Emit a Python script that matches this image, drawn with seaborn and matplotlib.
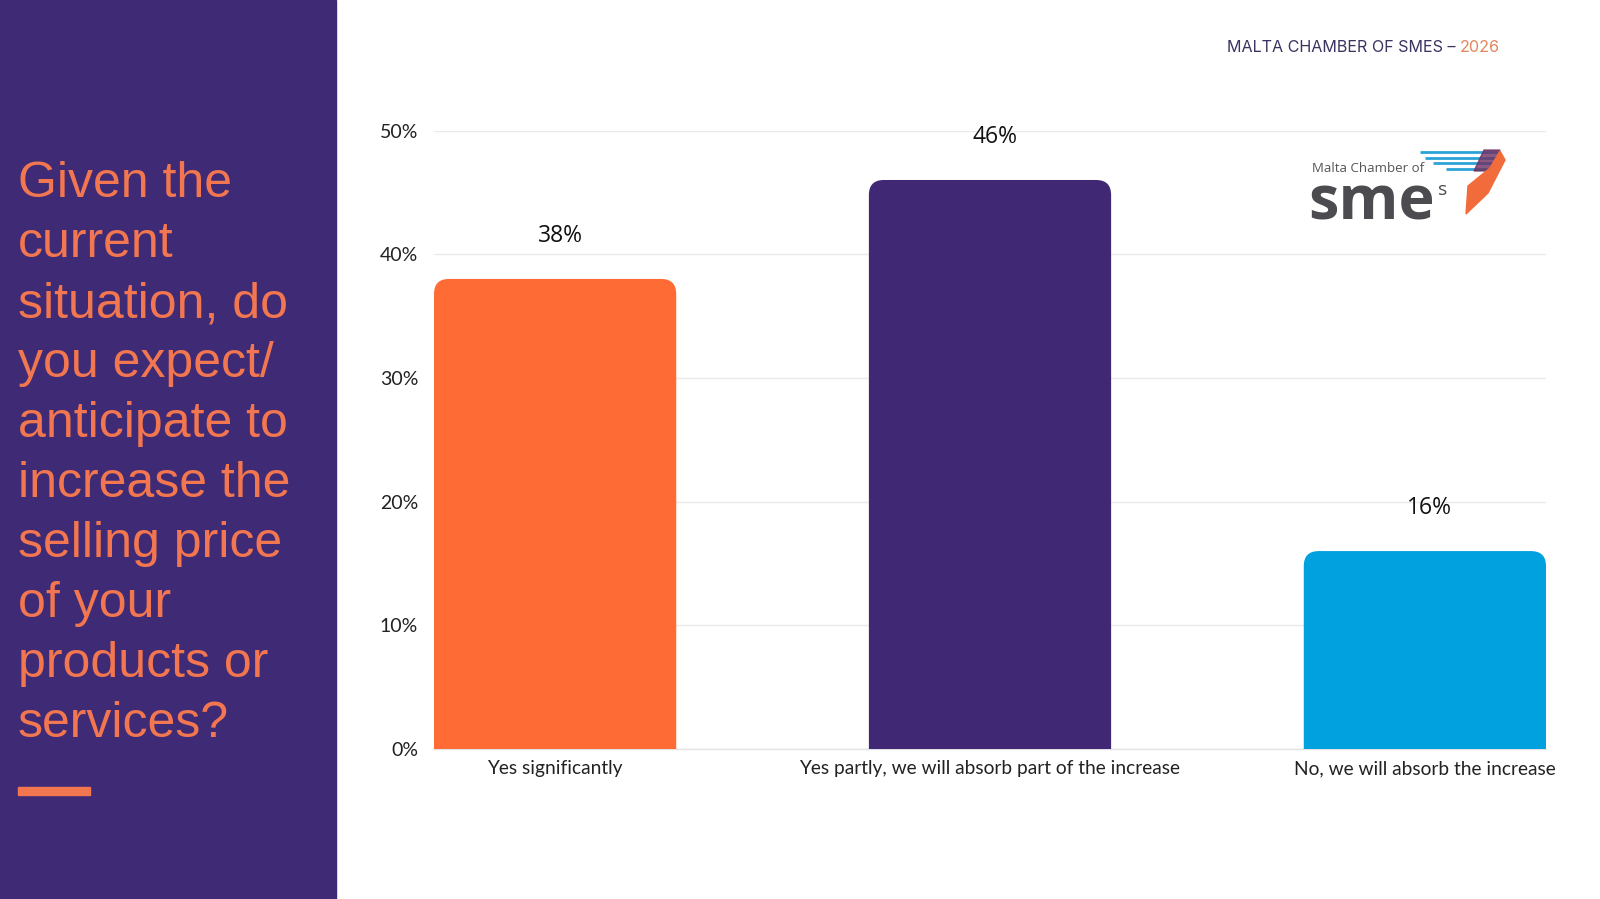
import matplotlib
matplotlib.use("Agg")
import matplotlib.pyplot as plt
import seaborn as sns
import pandas as pd
from matplotlib.patches import Rectangle, FancyBboxPatch, Polygon

# ---------------- data ----------------
categories = ["Yes significantly",
              "Yes partly, we will absorb part of the increase",
              "No, we will absorb the increase"]
values = [38, 46, 16]
value_labels = ["38%", "46%", "16%"]
bar_colors = ["#FF6B35", "#402874", "#00A1DE"]
y_ticks = [0, 10, 20, 30, 40, 50]
y_tick_labels = ["0%", "10%", "20%", "30%", "40%", "50%"]
question_lines = ["Given the", "current", "situation, do", "you expect/",
                  "anticipate to", "increase the", "selling price",
                  "of your", "products or", "services?"]
header_left = "MALTA CHAMBER OF SMES \u2013 "
header_right = "2026"

W, H = 1600, 899
sns.set_theme(style="white")
plt.rcParams["font.family"] = ["Lato", "DejaVu Sans"]

fig = plt.figure(figsize=(W / 100, H / 100), dpi=100)
fig.patch.set_facecolor("white")

# overlay in pixel coordinates for decorations
deco = fig.add_axes([0, 0, 1, 1], zorder=0)
deco.set_xlim(0, W)
deco.set_ylim(H, 0)
deco.axis("off")

# left panel
deco.add_patch(Rectangle((0, 0), 336, H, color="#3F2A75", zorder=1))
for i, line in enumerate(question_lines):
    deco.text(18, 197 + 60 * i, line, fontsize=36, color="#F2764F",
              family=["Liberation Sans", "DejaVu Sans"], va="baseline", ha="left", zorder=2)
deco.add_patch(Rectangle((18, 787), 72, 8, color="#F2764F", zorder=2))

# chart axes
ax_left, ax_right = 434, 1546
ax_top, ax_bot = 130.5, 749
ax = fig.add_axes([ax_left / W, 1 - ax_bot / H, (ax_right - ax_left) / W, (ax_bot - ax_top) / H], zorder=1)
ax.patch.set_alpha(0)

df = pd.DataFrame({"category": categories, "value": values})
bw = 0.557
sns.barplot(data=df, x="category", y="value", hue="category", palette=bar_colors,
            width=bw, saturation=1, legend=False, ax=ax, zorder=3)
ax.set_xlim(-bw / 2, 2 + bw / 2)
ax.set_ylim(0, 50)
ax.set_yticks(y_ticks)
ax.set_yticklabels(y_tick_labels)
ax.set_xlabel("")
ax.set_ylabel("")
for s in ["top", "right", "left"]:
    ax.spines[s].set_visible(False)
ax.spines["bottom"].set_color("#E3E3E3")
ax.spines["bottom"].set_linewidth(1.0)
ax.yaxis.grid(True, color="#EAEAEA", linewidth=1.0, zorder=0)
ax.set_axisbelow(True)
ax.tick_params(axis="y", length=0, pad=11.5, labelsize=14, labelcolor="#222222")
ax.tick_params(axis="x", length=0, pad=8, labelsize=13.8, labelcolor="#222222")

# replace bars with top-rounded versions
px_per_x = (ax_right - ax_left) / (2 + bw)
px_per_y = (ax_bot - ax_top) / 50.0
radius_px = 15
rx = radius_px / px_per_x
aspect = px_per_x / px_per_y
for p in list(ax.patches):
    x0, w, h = p.get_x(), p.get_width(), p.get_height()
    fc = p.get_facecolor()
    p.set_visible(False)
    ext = radius_px / px_per_y * 1.5
    fb = FancyBboxPatch((x0, -ext), w, h + ext,
                        boxstyle=f"round,pad=0,rounding_size={rx}",
                        mutation_aspect=aspect, facecolor=fc, edgecolor="none",
                        zorder=3, clip_on=True)
    ax.add_patch(fb)

# value labels
for i, (v, lab) in enumerate(zip(values, value_labels)):
    ax.annotate(lab, (i, v), xytext=(5, 31), textcoords="offset pixels",
                ha="center", va="bottom", fontsize=16.5, color="#111111",
                family=["Open Sans", "DejaVu Sans"])

# header
t1 = fig.text(1227 / W, 1 - 47 / H, header_left, fontsize=11.6, color="#3B3360",
              family=["Inter", "DejaVu Sans"], va="center", ha="left")
fig.canvas.draw()
bb = t1.get_window_extent()
fig.text(bb.x1 / W, 1 - 47 / H, header_right, fontsize=11.6, color="#E0875F",
         family=["Inter", "DejaVu Sans"], va="center", ha="left")

# logo
deco.text(1312, 168, "Malta Chamber of", fontsize=9.5, color="#555559",
          family=["Open Sans", "DejaVu Sans"], va="center", ha="left", zorder=3)
deco.text(1308, 219, "sme", fontsize=44, color="#4B4B50", fontweight="bold",
          family=["Open Sans", "DejaVu Sans"], va="baseline", ha="left", zorder=3)
deco.text(1438, 195, "s", fontsize=14, color="#4B4B50",
          family=["Open Sans", "DejaVu Sans"], va="baseline", ha="left", zorder=3)
stripes = [(1420, 1498, 152), (1425, 1498, 157.5), (1433, 1497, 163), (1446, 1495, 168.5)]
for xa, xb, yy in stripes:
    deco.plot([xa, xb], [yy, yy], color="#2BA3D6", linewidth=2.0, solid_capstyle="butt", zorder=3)
deco.add_patch(Polygon([(1484, 150), (1500, 150), (1492, 171), (1474, 171)],
                       closed=True, color="#6E2E62", alpha=0.8, zorder=4))
deco.add_patch(Polygon([(1500, 151), (1505, 160), (1488, 193), (1466, 214), (1468, 186), (1490, 168)],
                       closed=True, color="#F26B3A", zorder=4))

fig.savefig("out.png", dpi=100, facecolor="white")
